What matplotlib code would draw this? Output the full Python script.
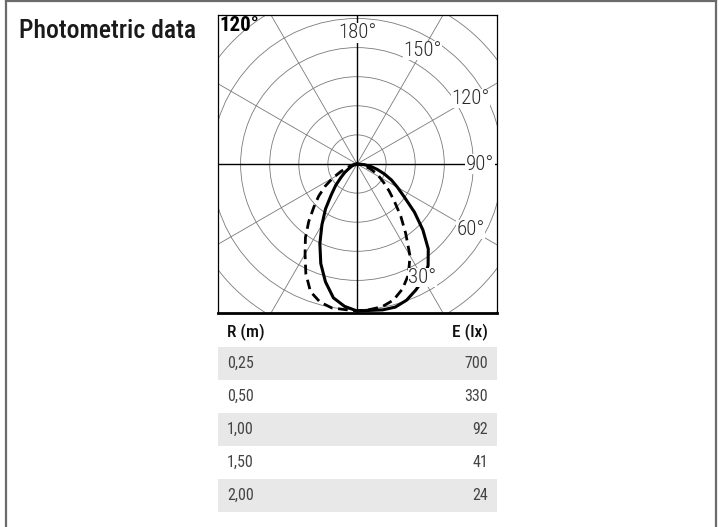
import numpy as np
import matplotlib
matplotlib.use("Agg")
import matplotlib.pyplot as plt
from matplotlib.patches import Circle, Rectangle
from matplotlib.lines import Line2D

plt.rcParams['font.family'] = ['Roboto Condensed', 'DejaVu Sans']

# polar curves: angle from nadir (deg, + to the right), intensity (ring = 100)
solid_angles = [-90, -70, -60, -55, -50, -45, -40, -35, -30, -25, -20, -15, -10, -5,
                0, 5, 10, 15, 20, 25, 30, 35, 40, 45, 50, 55, 60, 65, 70, 75, 80, 85, 90]
solid_values = [0, 17, 34, 52, 72, 103, 137, 189, 241, 302, 364, 419, 467, 491,
                505, 505, 509, 509, 498, 478, 457, 426, 381, 320, 258, 199, 161, 131, 100, 72, 48, 24, 0]

dashed_angles = [-90, -80, -70, -65, -60, -55, -50, -45, -40, -35, -30, -25, -20, -15, -10, -5,
                 0, 5, 10, 15, 20, 25, 30, 35, 40, 45, 50, 55, 60, 65, 70, 80, 90]
dashed_values = [0, 14, 38, 62, 96, 134, 172, 210, 258, 309, 357, 416, 467, 491, 502, 502,
                 505, 502, 498, 484, 457, 419, 364, 292, 234, 182, 144, 113, 89, 69, 48, 21, 0]

angle_labels = [180, 150, 120, 90, 60, 30]
ring_values = [100, 200, 300, 400, 500, 600, 700]

# table
distances = ["0,25", "0,50", "1,00", "1,50", "2,00"]
illuminance = ["700", "330", "92", "41", "24"]

PX = 29.1 / 100.0  # pixels per intensity unit

fig = plt.figure(figsize=(7.19, 5.27), dpi=100)
W, H = 719, 527

# outer page frame (open at bottom)
fc = '#6b6b6b'
fig.add_artist(Line2D([6 / W, 716 / W], [1 - 1 / H, 1 - 1 / H], color=fc, lw=1.6))
fig.add_artist(Line2D([6 / W, 6 / W], [0, 1 - 1 / H], color=fc, lw=1.6))
fig.add_artist(Line2D([716 / W, 716 / W], [0, 1 - 1 / H], color=fc, lw=1.6))

fig.text(19 / W, 1 - 31 / H, "Photometric data", fontsize=18.5, va='center', ha='left',
         color='#1a1a1a', fontweight='medium')

# polar diagram
ax = fig.add_axes([218 / W, 1 - 313 / H, 279 / W, 298 / H])
ax.set_xlim(-139, 140)
ax.set_ylim(-149, 149)
ax.set_xticks([])
ax.set_yticks([])
for s in ['left', 'right', 'top']:
    ax.spines[s].set_linewidth(0.9)
ax.spines['bottom'].set_linewidth(2.0)

for rv in ring_values:
    ax.add_patch(Circle((0, 0), rv * PX, fill=False, ec='#7a7a7a', lw=0.6))
for a in [30, 60, 120, 150]:
    t = np.radians(a)
    ax.plot([-300 * np.sin(t), 300 * np.sin(t)], [300 * np.cos(t), -300 * np.cos(t)],
            color='#7a7a7a', lw=0.6)
ax.axhline(0, color='black', lw=1.0)
ax.axvline(0, color='black', lw=1.0)

for a in angle_labels:
    t = np.radians(a)
    lr = 123 if a == 90 else 131
    ax.text(lr * np.sin(t), -lr * np.cos(t), f"{a}°", fontsize=15, color='#2a2a2a',
            ha='center', va='center', fontweight='light',
            bbox=dict(facecolor='white', edgecolor='none', pad=0.3))

ax.text(0.004, 0.995, "120°", transform=ax.transAxes, fontsize=15, fontweight='bold',
        ha='left', va='top')

sa = np.radians(solid_angles)
sr = np.array(solid_values) * PX
ax.plot(sr * np.sin(sa), -sr * np.cos(sa), color='black', lw=2.2, solid_joinstyle='round')
da = np.radians(dashed_angles)
dr = np.array(dashed_values) * PX
ax.plot(dr * np.sin(da), -dr * np.cos(da), color='black', lw=2.0, dashes=(3.5, 2))

# table
tx = fig.add_axes([218 / W, 0, 279 / W, 212 / H])
tx.set_xlim(0, 279)
tx.set_ylim(212, 0)
tx.axis('off')
tx.text(9, 17, "R (m)", fontsize=12.5, ha='left', va='center', color='#111111', fontweight='medium')
tx.text(270, 17, "E (lx)", fontsize=12.5, ha='right', va='center', color='#111111', fontweight='medium')
for i, (d, e) in enumerate(zip(distances, illuminance)):
    top = 32 + 33 * i
    if i % 2 == 0:
        tx.add_patch(Rectangle((0, top), 279, 33, color='#e8e8e8', lw=0))
    tx.text(9, top + 16.5, d, fontsize=11.5, ha='left', va='center', color='#444444')
    tx.text(270, top + 16.5, e, fontsize=11.5, ha='right', va='center', color='#444444')

fig.savefig("out.png", dpi=100)
